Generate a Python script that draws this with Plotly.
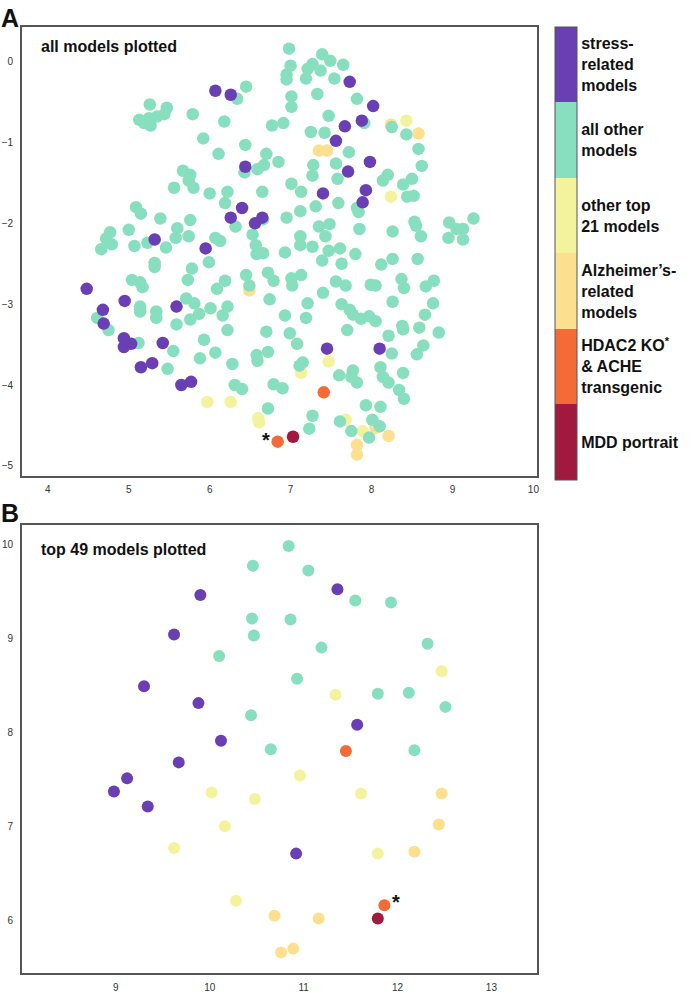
import plotly.graph_objects as go

# ---------------- Panel A data ----------------
A_stress_x = [6.07, 6.26, 6.44, 6.40, 6.26, 6.56, 6.65, 5.32, 5.95,
              7.73, 8.02, 7.88, 7.67, 7.56, 7.98, 7.71, 7.40, 7.93, 7.89,
              4.48, 4.95, 5.59, 4.68, 4.69, 4.94, 4.94, 5.03, 5.42, 5.15, 5.29, 5.65, 5.77,
              7.45, 8.10]
A_stress_y = [-0.36, -0.41, -1.30, -1.81, -1.93, -2.00, -1.93, -2.20, -2.31,
              -0.25, -0.55, -0.73, -0.80, -0.98, -1.24, -1.36, -1.63, -1.59, -1.74,
              -2.81, -2.96, -3.03, -3.07, -3.24, -3.42, -3.53, -3.49, -3.48, -3.78, -3.73, -4.00, -3.96,
              -3.55, -3.55]

A_other_x = [6.45, 6.34, 5.26, 5.47, 5.13, 5.25, 5.35, 5.44, 5.27, 5.19, 5.79, 6.18, 6.77, 5.92, 6.44,
             6.11, 6.70, 6.85, 6.43, 6.59, 6.67, 5.67, 5.76, 5.74, 5.80, 5.56, 6.00, 6.22, 6.19, 6.65,
             6.66, 6.32, 6.53, 5.09, 5.15, 5.39, 5.76, 5.60, 5.74, 5.58, 5.00, 4.77, 4.72, 4.79, 4.66,
             5.07, 5.23, 5.46, 6.07, 6.13, 6.57, 6.66, 6.58,
             6.98, 7.39, 7.49, 7.65, 7.00, 7.27, 7.21, 7.37, 6.95, 6.95, 7.19, 7.54, 7.01, 7.33, 7.01,
             7.82, 7.47, 6.91, 7.25, 7.42, 7.91, 8.25, 8.43, 8.58, 8.62, 7.72, 7.56, 7.28, 7.27, 7.58,
             8.14, 8.20, 8.39, 8.50, 8.44, 8.52, 7.01, 7.13, 7.31, 7.59, 6.95, 7.12, 7.35, 7.48, 7.82,
             7.84, 7.85, 8.26, 8.53, 8.55, 8.61, 8.96, 9.05, 9.13, 8.95, 9.13, 9.26, 7.12, 7.12, 7.43,
             7.27, 7.47, 7.61, 7.80, 6.93, 8.26, 8.57,
             5.32, 5.32, 5.99, 5.78, 5.73, 5.04, 5.14, 5.17, 6.19, 6.09, 6.45, 6.49, 6.72, 6.79, 6.74,
             5.14, 5.14, 5.34, 5.34, 5.71, 5.81, 5.87, 5.76, 6.01, 6.22, 6.16, 5.59, 6.22, 6.70, 6.72,
             6.58, 6.59, 5.93, 6.07, 5.88, 5.55, 5.48, 6.28, 6.31, 6.40, 6.72, 6.79, 4.61, 4.75, 5.12,
             7.39, 7.63, 8.12, 7.01, 7.02, 7.13, 7.40, 7.56, 7.68, 7.99, 8.05, 8.37, 8.40, 8.67, 8.77,
             8.76, 8.66, 8.59, 8.83, 8.26, 7.63, 7.73, 7.77, 7.87, 7.97, 8.05, 7.70, 8.21, 8.38, 8.39,
             8.64, 8.56, 8.25, 6.93, 7.19, 7.21, 6.99, 7.08, 7.15, 7.11, 7.60, 7.77, 7.75, 7.82, 8.11,
             8.14, 8.21, 8.39, 8.34, 8.40, 6.90, 7.27, 7.23, 7.93, 8.11, 8.01, 8.10, 7.97, 7.75, 7.61]
A_other_y = [-0.31, -0.46, -0.53, -0.57, -0.72, -0.70, -0.68, -0.65, -0.79, -0.76, -0.65, -0.74, -0.79, -0.95, -1.03,
             -1.14, -1.14, -1.24, -1.37, -1.33, -1.28, -1.35, -1.40, -1.47, -1.56, -1.56, -1.63, -1.61, -1.75, -1.61,
             -1.95, -2.04, -2.14, -1.80, -1.88, -1.94, -1.96, -2.06, -2.16, -2.18, -2.08, -2.11, -2.19, -2.26, -2.32,
             -2.28, -2.24, -2.30, -2.18, -2.22, -2.27, -2.37, -2.38,
             0.16, 0.09, 0.01, -0.04, -0.05, -0.03, -0.09, -0.11, -0.16, -0.22, -0.21, -0.21, -0.43, -0.40, -0.56,
             -0.46, -0.67, -0.76, -0.87, -0.88, -0.76, -0.81, -0.90, -1.08, -1.29, -1.12, -1.26, -1.28, -1.41, -1.45,
             -1.47, -1.40, -1.52, -1.45, -1.67, -1.66, -1.51, -1.61, -1.79, -1.75, -1.93, -1.85, -2.04, -2.01, -1.81,
             -1.86, -2.07, -2.10, -1.98, -2.03, -2.16, -1.99, -2.07, -2.07, -2.18, -2.20, -1.94, -2.16, -2.27, -2.16,
             -2.29, -2.34, -2.31, -2.38, -2.36, -2.44, -2.44,
             -2.49, -2.54, -2.48, -2.56, -2.70, -2.70, -2.73, -2.79, -2.71, -2.81, -2.64, -2.77, -2.61, -2.71, -2.94,
             -3.03, -3.09, -3.09, -3.17, -2.93, -2.99, -3.12, -3.19, -3.05, -3.03, -3.14, -3.25, -3.32, -3.34, -3.59,
             -3.63, -3.70, -3.44, -3.60, -3.67, -3.58, -3.80, -3.74, -4.00, -4.05, -4.29, -3.99, -3.17, -3.32, -3.48,
             -2.46, -2.50, -2.51, -2.68, -2.77, -2.64, -2.86, -2.72, -2.77, -2.76, -2.77, -2.69, -2.80, -2.78, -2.71,
             -2.99, -3.13, -3.29, -3.35, -2.97, -3.00, -3.07, -3.13, -3.18, -3.15, -3.21, -3.32, -3.39, -3.27, -3.31,
             -3.51, -3.62, -3.61, -3.14, -3.17, -2.99, -3.36, -3.49, -3.72, -3.76, -3.88, -3.82, -3.90, -3.97, -3.78,
             -3.90, -3.97, -3.85, -4.06, -4.17, -4.04, -4.38, -4.54, -4.25, -4.27, -4.43, -4.51, -4.65, -4.57, -4.45]

A_top21_x = [8.43, 8.24, 5.97, 6.26, 6.60, 6.61, 7.47, 7.13, 7.68, 7.89]
A_top21_y = [-0.73, -1.67, -4.21, -4.21, -4.41, -4.46, -3.71, -3.85, -4.43, -4.57]

A_alz_x = [7.35, 7.45, 8.58, 8.24, 6.49, 8.05, 8.21, 7.82, 7.82]
A_alz_y = [-1.10, -1.10, -0.89, -0.78, -2.83, -4.53, -4.63, -4.74, -4.86]

A_hdac_x = [6.84, 7.41]
A_hdac_y = [-4.70, -4.09]

A_mdd_x = [7.03]
A_mdd_y = [-4.64]

# ---------------- Panel B data ----------------
B_stress_x = [9.90, 9.62, 9.30, 9.88, 10.12, 11.36, 11.57, 9.67, 9.12, 8.98, 9.34, 10.92]
B_stress_y = [9.46, 9.04, 8.49, 8.31, 7.91, 9.52, 8.08, 7.68, 7.51, 7.37, 7.21, 6.71]

B_other_x = [10.46, 10.45, 10.47, 10.10, 10.44, 10.65, 10.84, 11.05, 11.55, 11.93, 10.86, 11.19,
             12.32, 10.93, 11.79, 12.12, 12.51, 12.18]
B_other_y = [9.77, 9.21, 9.03, 8.81, 8.18, 7.82, 9.98, 9.72, 9.40, 9.38, 9.20, 8.90,
             8.94, 8.57, 8.41, 8.42, 8.27, 7.81]

B_top21_x = [12.47, 11.34, 10.02, 10.48, 10.16, 9.62, 10.28, 10.96, 11.61, 11.79]
B_top21_y = [8.65, 8.40, 7.36, 7.29, 7.00, 6.77, 6.21, 7.54, 7.35, 6.71]

B_alz_x = [10.69, 12.47, 12.44, 12.18, 11.16, 10.76, 10.89]
B_alz_y = [6.05, 7.35, 7.02, 6.73, 6.02, 5.66, 5.70]

B_hdac_x = [11.45, 11.86]
B_hdac_y = [7.80, 6.16]

B_mdd_x = [11.79]
B_mdd_y = [6.02]

# ---------------- categories ----------------
cat_labels = ["MDD portrait",
              "HDAC2 KO<sup>*</sup><br>& ACHE<br>transgenic",
              "Alzheimer’s-<br>related<br>models",
              "other top<br>21 models",
              "all other<br>models",
              "stress-<br>related<br>models"]
cat_colors = ["#a1193f", "#f46b38", "#fde08f", "#f4f39d", "#88dfc0", "#6a3fb4"]

n = len(cat_colors)
colorscale = []
for i, c in enumerate(cat_colors):
    colorscale.append([i / n, c])
    colorscale.append([(i + 1) / n, c])


def stack(groups):
    xs, ys, cs = [], [], []
    for code, gx, gy in groups:
        xs += gx
        ys += gy
        cs += [code] * len(gx)
    return xs, ys, cs


A_x, A_y, A_c = stack([(2, A_alz_x, A_alz_y), (3, A_top21_x, A_top21_y),
                       (4, A_other_x, A_other_y), (5, A_stress_x, A_stress_y),
                       (1, A_hdac_x, A_hdac_y), (0, A_mdd_x, A_mdd_y)])
B_x, B_y, B_c = stack([(2, B_alz_x, B_alz_y), (3, B_top21_x, B_top21_y),
                       (4, B_other_x, B_other_y), (5, B_stress_x, B_stress_y),
                       (1, B_hdac_x, B_hdac_y), (0, B_mdd_x, B_mdd_y)])

W, H = 696, 993


def fx(p):
    return p / W


def fy(p):
    return 1 - p / H


fig = go.Figure()

fig.add_trace(go.Scatter(
    x=A_x, y=A_y, mode="markers", xaxis="x", yaxis="y", hoverinfo="skip",
    marker=dict(size=12.5, color=A_c, colorscale=colorscale, cmin=-0.5, cmax=5.5,
                line=dict(width=0), showscale=True,
                colorbar=dict(
                    x=fx(557), xanchor="left", y=fy(27), yanchor="top",
                    lenmode="pixels", len=453, thicknessmode="pixels", thickness=22,
                    xpad=0, ypad=0, outlinewidth=1, outlinecolor="#555",
                    tickvals=list(range(n)), ticktext=cat_labels, ticks="",
                    tickfont=dict(family="Liberation Sans, Arial, sans-serif", size=16,
                                  color="#111", weight="bold"),
                ))))

fig.add_trace(go.Scatter(
    x=B_x, y=B_y, mode="markers", xaxis="x2", yaxis="y2", hoverinfo="skip",
    marker=dict(size=12, color=B_c, colorscale=colorscale, cmin=-0.5, cmax=5.5,
                line=dict(width=0), showscale=False)))

axis_common = dict(showgrid=False, zeroline=False, showline=True, mirror=True,
                   linecolor="#555", linewidth=1.5, ticks="",
                   tickfont=dict(family="Liberation Sans, Arial, sans-serif", size=10, color="#333"))

xd = [fx(22), fx(539)]
fig.update_layout(
    width=W, height=H, margin=dict(l=0, r=0, t=0, b=0),
    paper_bgcolor="white", plot_bgcolor="white", showlegend=False,
    xaxis=dict(domain=xd, range=[3.68, 10.05], tickvals=[4, 5, 6, 7, 8, 9, 10],
               anchor="y", ticklabelstandoff=4, **axis_common),
    yaxis=dict(domain=[fy(478), fy(27)], range=[-5.12, 0.43],
               tickvals=[-5, -4, -3, -2, -1, 0], anchor="x", ticklabelstandoff=5, **axis_common),
    xaxis2=dict(domain=xd, range=[8.0, 13.49], tickvals=[9, 10, 11, 12, 13],
                anchor="y2", ticklabelstandoff=4, **axis_common),
    yaxis2=dict(domain=[fy(978), fy(528)], range=[5.44, 10.2],
                tickvals=[6, 7, 8, 9, 10], anchor="x2", ticklabelstandoff=5, **axis_common),
)

bold = dict(family="Liberation Sans, Arial, sans-serif", color="#111", weight="bold")
fig.add_annotation(text="A", xref="paper", yref="paper", x=fx(-1), y=fy(18),
                   xanchor="left", yanchor="middle", showarrow=False, font=dict(size=25, **bold))
fig.add_annotation(text="B", xref="paper", yref="paper", x=fx(-1), y=fy(516),
                   xanchor="left", yanchor="middle", showarrow=False, font=dict(size=25, **bold))
fig.add_annotation(text="all models plotted", xref="x domain", yref="y domain",
                   x=(39 - 22) / 517, y=1 - 20 / 451, xanchor="left", yanchor="middle",
                   showarrow=False, font=dict(size=16, **bold))
fig.add_annotation(text="top 49 models plotted", xref="x2 domain", yref="y2 domain",
                   x=(39 - 22) / 517, y=1 - 24 / 450, xanchor="left", yanchor="middle",
                   showarrow=False, font=dict(size=16, **bold))
fig.add_annotation(text="*", xref="x", yref="y", x=6.70, y=-4.68, showarrow=False,
                   font=dict(size=20, **bold))
fig.add_annotation(text="*", xref="x2", yref="y2", x=11.98, y=6.20, showarrow=False,
                   font=dict(size=20, **bold))

# remove the browser's default body margin and scrollbars so the figure fills the window exactly
fig.write_html(
    "out.html",
    config={"displayModeBar": False},
    post_script=("document.body.style.margin='0';"
                 "document.body.style.overflow='hidden';"
                 "document.documentElement.style.overflow='hidden';"),
)
